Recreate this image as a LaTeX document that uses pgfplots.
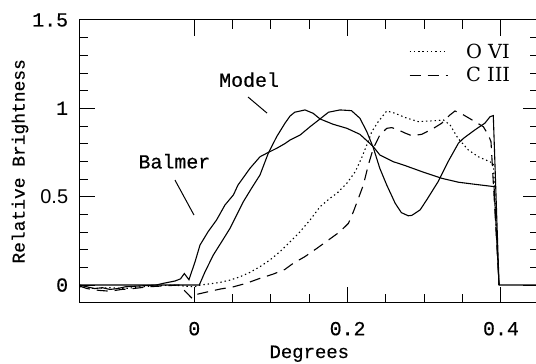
\documentclass[border=0pt]{standalone}
\usepackage{fontspec}
\setmainfont{Liberation Mono}[FakeBold=0.45]
\newfontfamily\legfont{DejaVu Serif}
\newfontfamily\sansf{Liberation Sans}
\usepackage{pgfplots}
\pgfplotsset{compat=1.18}

\begin{document}
\begin{tikzpicture}[x=1bp,y=1bp]
\begin{axis}[
  at={(0,0)}, anchor=south west,
  scale only axis, width=460bp, height=282.7bp,
  xmin=-0.15, xmax=0.45, ymin=-0.1, ymax=1.5,
  xtick={0,0.2,0.4}, xticklabels={0,0.2,0.4},
  ytick={0,0.5,1,1.5}, yticklabels={0,{\sansf 0.5},1,1.5},
  minor x tick num=3, minor y tick num=4,
  tick align=inside,
  major tick length=16bp, minor tick length=9bp,
  axis line style={line width=1bp},
  every tick/.style={line width=1bp, black},
  tick label style={font=\fontsize{20}{20}\selectfont, inner sep=0pt},
  xticklabel style={anchor=north, yshift=-19bp},
  yticklabel style={anchor=east, xshift=-11bp},
  xlabel={Degrees},
  ylabel={Relative Brightness},
  xlabel style={font=\fontsize{19}{19}\selectfont, inner sep=0pt, at={(axis description cs:0.5,-0.1956)}, anchor=base},
  ylabel style={font=\fontsize{18}{18}\selectfont, inner sep=0pt, at={(axis description cs:-0.129,0.5)}, anchor=center},
  legend style={draw=none, fill=none, inner sep=0pt, outer sep=0pt,
    at={(axis cs:0.28,1.377)}, anchor=north west,
    font=\legfont\fontsize{19.5}{19.5}\selectfont,
    row sep=3.5bp, column sep=16bp,
    cells={anchor=west, inner sep=0pt}},
  legend cell align=left,
  legend image code/.code={\draw[#1] (0bp,0bp) -- (38bp,0bp);},
]
% curve A
\addplot[black, line width=1.1bp, forget plot] coordinates {
(-0.15,0) (0.0065,0) (0.014,0.075) (0.0248,0.17) (0.0357,0.245) (0.0466,0.321)
(0.0553,0.396) (0.064,0.472) (0.075,0.55) (0.0857,0.623) (0.0965,0.746)
(0.1075,0.84) (0.1183,0.916) (0.125,0.957) (0.131,0.978) (0.1444,0.991)
(0.155,0.972) (0.164,0.94) (0.181,0.91) (0.199,0.887) (0.216,0.853)
(0.2335,0.783) (0.242,0.736) (0.2596,0.698) (0.275,0.676) (0.2967,0.642)
(0.3228,0.604) (0.3444,0.582) (0.3662,0.57) (0.391,0.557) (0.3975,0) (0.45,0)
};
% curve B
\addplot[black, line width=1.1bp, forget plot] coordinates {
(-0.15,0.0) (-0.14,-0.01) (-0.13,-0.02) (-0.12,-0.015) (-0.11,-0.025)
(-0.10,-0.02) (-0.09,-0.01) (-0.07,-0.005) (-0.05,0.0) (-0.04,0.01)
(-0.025,0.023) (-0.018,0.035) (-0.013,0.065) (-0.007,0.03) (0.001,0.132)
(0.0074,0.226) (0.018,0.302) (0.029,0.368) (0.04,0.453) (0.051,0.51)
(0.057,0.566) (0.0727,0.661) (0.0857,0.726) (0.0945,0.746) (0.1075,0.774)
(0.118,0.800) (0.125,0.821) (0.138,0.849) (0.151,0.896) (0.164,0.94)
(0.175,0.978) (0.19,0.991) (0.205,0.987) (0.216,0.944) (0.225,0.868)
(0.2335,0.777) (0.242,0.66) (0.251,0.566) (0.262,0.463) (0.27,0.41)
(0.279,0.392) (0.2836,0.394) (0.2945,0.425) (0.303,0.481) (0.318,0.585)
(0.331,0.698) (0.3444,0.802) (0.351,0.83) (0.366,0.878) (0.379,0.916)
(0.3858,0.953) (0.39,0.959) (0.3975,0)
};
% O VI dotted
\addplot[black, line width=1.1bp, dash pattern=on 1.4bp off 2.9bp] coordinates {
(-0.15,-0.01) (-0.13,-0.02) (-0.11,-0.015) (-0.09,-0.02) (-0.07,-0.01)
(-0.05,-0.005) (-0.03,0.0) (-0.015,-0.005) (0.0,-0.01) (0.0074,0.0)
(0.0205,0.007) (0.0335,0.015) (0.0466,0.028) (0.0597,0.047) (0.0727,0.072)
(0.0857,0.104) (0.0988,0.142) (0.112,0.19) (0.125,0.245) (0.138,0.302)
(0.151,0.368) (0.164,0.443) (0.177,0.491) (0.186,0.519) (0.199,0.576)
(0.21,0.642) (0.218,0.717) (0.225,0.793) (0.2315,0.868) (0.24,0.925)
(0.251,0.985) (0.262,0.972) (0.275,0.948) (0.292,0.925) (0.31,0.929)
(0.325,0.934) (0.3336,0.906) (0.344,0.83) (0.3575,0.764) (0.3705,0.726)
(0.39,0.689) (0.3975,0)
};
\addlegendentry{O VI}
% C III dashed
\addplot[black, line width=1.1bp, dash pattern=on 11bp off 7bp] coordinates {
(-0.15,-0.005) (-0.14,-0.02) (-0.125,-0.03) (-0.11,-0.035) (-0.095,-0.025)
(-0.08,-0.02) (-0.06,-0.01) (-0.04,-0.005) (-0.02,0.0) (-0.012,-0.035)
(-0.003,-0.075) (0.003,-0.053) (0.018,-0.038) (0.0335,-0.023) (0.051,-0.01)
(0.068,0.01) (0.0857,0.038) (0.103,0.062) (0.118,0.088) (0.129,0.123)
(0.144,0.16) (0.16,0.208) (0.175,0.255) (0.19,0.302) (0.201,0.349)
(0.2075,0.415) (0.214,0.49) (0.2205,0.566) (0.227,0.68) (0.2335,0.774)
(0.242,0.849) (0.251,0.887) (0.2575,0.891) (0.266,0.878) (0.275,0.86)
(0.2836,0.845) (0.2967,0.853) (0.312,0.887) (0.3228,0.916) (0.3336,0.963)
(0.34,0.985) (0.351,0.963) (0.366,0.925) (0.377,0.896) (0.3836,0.849)
(0.387,0.811) (0.3975,0)
};
\addlegendentry{C III}
\node[anchor=base west, inner sep=0pt, font=\fontsize{20}{20}\selectfont] at (axis cs:0.0322,1.122) {Model};
\node[anchor=base west, inner sep=0pt, font=\fontsize{20}{20}\selectfont] at (axis cs:-0.073,0.66) {Balmer};
\draw[line width=1bp] (axis cs:0.0701,1.064) -- (axis cs:0.0949,0.973);
\draw[line width=1bp] (axis cs:-0.0252,0.594) -- (axis cs:-0.0004,0.396);
\end{axis}
\pgfresetboundingbox
\path[use as bounding box] (-79.3,-60.3) rectangle (456.7,302.7);
\end{tikzpicture}
\end{document}
